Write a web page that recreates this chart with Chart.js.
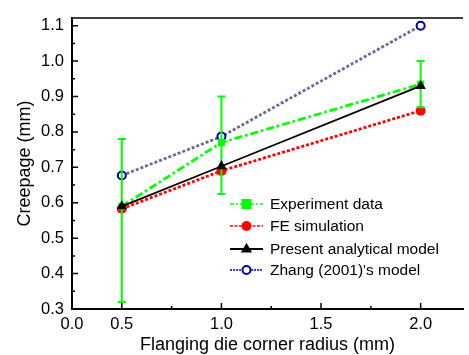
<!DOCTYPE html>
<html>
<head>
<meta charset="utf-8">
<script src="https://cdn.jsdelivr.net/npm/chart.js@4/dist/chart.umd.min.js"></script>
<style>
  html, body { margin: 0; padding: 0; background: #fff; }
  #wrap { width: 469px; height: 355px; }
</style>
</head>
<body>
<div id="wrap"><canvas id="c" width="469" height="355"></canvas></div>
<script>
// 曲げ型コーナー半径 (mm)
const radius = [0.5, 1.0, 2.0];

const experiment = [0.59, 0.77, 0.935];
const expLow     = [0.32, 0.625, 0.87];
const expHigh    = [0.78, 0.90, 1.0];
const feSim      = [0.583, 0.69, 0.86];
const present    = [0.59, 0.703, 0.93];
const zhang      = [0.677, 0.787, 1.10];

const seriesNames = ["Experiment data", "FE simulation", "Present analytical model", "Zhang (2001)'s model"];

const xTickValues = [0.25, 0.5, 1.0, 1.5, 2.0];
const xTickLabels = ["0.0", "0.5", "1.0", "1.5", "2.0"];
const xMinorTicks = [0.75, 1.25, 1.75];
const yTickValues = [0.3, 0.4, 0.5, 0.6, 0.7, 0.8, 0.9, 1.0, 1.1];
const yMinorTicks = [0.35, 0.45, 0.55, 0.65, 0.75, 0.85, 0.95, 1.05];

const FONT = "'Liberation Sans', Arial, sans-serif";

const pts = (ys) => radius.map((x, i) => ({ x, y: ys[i] }));

// 実験値のエラーバー
const errorBars = {
  id: "errorBars",
  afterDatasetDraw(chart, args) {
    if (args.index !== 0) return;
    const { ctx } = chart;
    const xs = chart.scales.x, ys = chart.scales.y;
    ctx.save();
    ctx.strokeStyle = "#00ff00";
    ctx.lineWidth = 2;
    radius.forEach((r, i) => {
      const px = xs.getPixelForValue(r);
      const y1 = ys.getPixelForValue(expLow[i]);
      const y2 = ys.getPixelForValue(expHigh[i]);
      ctx.beginPath();
      ctx.moveTo(px, y1); ctx.lineTo(px, y2);
      ctx.moveTo(px - 4, y1); ctx.lineTo(px + 4, y1);
      ctx.moveTo(px - 4, y2); ctx.lineTo(px + 4, y2);
      ctx.stroke();
    });
    ctx.restore();
  }
};

// 内向き目盛り・上枠
const frameTicks = {
  id: "frameTicks",
  afterDraw(chart) {
    const { ctx, chartArea } = chart;
    const xs = chart.scales.x, ys = chart.scales.y;
    ctx.save();
    ctx.strokeStyle = "#000";
    ctx.lineWidth = 1.5;
    ctx.beginPath();
    ctx.moveTo(chartArea.left, chartArea.top);
    ctx.lineTo(chartArea.right, chartArea.top);
    xTickValues.slice(1).forEach(v => {
      const p = xs.getPixelForValue(v);
      ctx.moveTo(p, chartArea.bottom); ctx.lineTo(p, chartArea.bottom - 6);
    });
    xMinorTicks.forEach(v => {
      const p = xs.getPixelForValue(v);
      ctx.moveTo(p, chartArea.bottom); ctx.lineTo(p, chartArea.bottom - 3);
    });
    yTickValues.forEach(v => {
      const p = ys.getPixelForValue(v);
      ctx.moveTo(chartArea.left, p); ctx.lineTo(chartArea.left + 6, p);
    });
    yMinorTicks.forEach(v => {
      const p = ys.getPixelForValue(v);
      ctx.moveTo(chartArea.left, p); ctx.lineTo(chartArea.left + 3, p);
    });
    ctx.stroke();
    ctx.restore();
  }
};

function drawMarker(ctx, style, x, y, r, fill, stroke, bw) {
  ctx.beginPath();
  if (style === "rect") {
    ctx.rect(x - r, y - r, 2 * r, 2 * r);
  } else if (style === "triangle") {
    ctx.moveTo(x, y - r);
    ctx.lineTo(x + r * 0.95, y + r * 0.6);
    ctx.lineTo(x - r * 0.95, y + r * 0.6);
    ctx.closePath();
  } else {
    ctx.arc(x, y, r, 0, Math.PI * 2);
  }
  ctx.fillStyle = fill;
  ctx.fill();
  if (bw) { ctx.lineWidth = bw; ctx.strokeStyle = stroke; ctx.stroke(); }
}

// 凡例（線＋マーカー）
const lineLegend = {
  id: "lineLegend",
  afterDraw(chart) {
    const { ctx } = chart;
    const rows = [204, 226, 249, 270];
    ctx.save();
    chart.data.datasets.forEach((ds, i) => {
      const y = rows[i];
      ctx.setLineDash(ds.legendDash || ds.borderDash || []);
      ctx.strokeStyle = ds.legendColor || ds.borderColor;
      ctx.lineWidth = ds.legendWidth || ds.borderWidth;
      ctx.beginPath();
      ctx.moveTo(230, y); ctx.lineTo(263, y);
      ctx.stroke();
      ctx.setLineDash([]);
      drawMarker(ctx, ds.pointStyle, 246.5, y, ds.legendRadius || ds.pointRadius,
        ds.pointBackgroundColor, ds.pointBorderColor, ds.pointBorderWidth);
      ctx.fillStyle = "#000";
      ctx.font = "15.5px " + FONT;
      ctx.textBaseline = "middle";
      ctx.textAlign = "left";
      ctx.fillText(ds.label, 270, y + 1);
    });
    ctx.restore();
  }
};

new Chart(document.getElementById("c"), {
  type: "scatter",
  data: {
    datasets: [
      {
        label: seriesNames[0], data: pts(experiment), showLine: true, order: 1,
        borderColor: "#00ff00", borderWidth: 2.8, borderDash: [8, 3, 2.5, 3],
        pointStyle: "rect", pointRadius: 5, pointBackgroundColor: "#00ff00",
        pointBorderColor: "#00ff00", pointBorderWidth: 0, legendDash: [4, 2, 2, 2], legendWidth: 1.5
      },
      {
        label: seriesNames[1], data: pts(feSim), showLine: true, order: 2,
        borderColor: "#ff0000", borderWidth: 2.8, borderDash: [3, 2],
        pointStyle: "circle", pointRadius: 5, pointBackgroundColor: "#ff0000",
        pointBorderColor: "#ff0000", pointBorderWidth: 0, legendDash: [3, 1.5], legendWidth: 1.5
      },
      {
        label: seriesNames[2], data: pts(present), showLine: true, order: 0,
        borderColor: "#000000", borderWidth: 1.8,
        pointStyle: "triangle", pointRadius: 6, pointBackgroundColor: "#000000",
        pointBorderColor: "#000000", pointBorderWidth: 0, legendWidth: 2
      },
      {
        label: seriesNames[3], data: pts(zhang), showLine: true, order: 3,
        borderColor: "#6a6a9c", borderWidth: 2.8, borderDash: [3, 2],
        pointStyle: "circle", pointRadius: 4, pointBackgroundColor: "#ffffff",
        pointBorderColor: "#0000a0", pointBorderWidth: 2,
        legendColor: "#0000a0", legendDash: [2, 1], legendWidth: 1.5
      }
    ]
  },
  options: {
    responsive: false,
    animation: false,
    devicePixelRatio: 1,
    layout: { padding: { top: 12, right: 0, bottom: 0, left: 0 } },
    plugins: { legend: { display: false }, tooltip: { enabled: false } },
    elements: { line: { tension: 0 } },
    scales: {
      x: {
        type: "linear", min: 0.25, max: 2.2126,
        afterBuildTicks: (s) => { s.ticks = xTickValues.map(v => ({ value: v })); },
        afterFit: (s) => { s.height = 46; },
        grid: { display: false, drawTicks: false },
        border: { display: true, color: "#000", width: 2 },
        ticks: {
          padding: 6, color: "#000", font: { family: FONT, size: 16.5 },
          callback: (v) => xTickLabels[xTickValues.indexOf(v)]
        },
        title: {
          display: true, text: "Flanging die corner radius (mm)", color: "#000",
          font: { family: FONT, size: 18, lineHeight: 1 }, padding: { top: 0, bottom: 1 }
        }
      },
      y: {
        type: "linear", min: 0.3, max: 1.122,
        afterBuildTicks: (s) => { s.ticks = yTickValues.map(v => ({ value: v })); },
        afterFit: (s) => { s.width = 72; },
        grid: { display: false, drawTicks: false },
        border: { display: true, color: "#000", width: 2 },
        ticks: {
          padding: 8, color: "#000", font: { family: FONT, size: 16.5 },
          callback: (v) => v.toFixed(1)
        },
        title: {
          display: true, text: "Creepage (mm)", color: "#000",
          font: { family: FONT, size: 18, lineHeight: 1 }, padding: { top: 16, bottom: 0 }
        }
      }
    }
  },
  plugins: [errorBars, frameTicks, lineLegend]
});
</script>
</body>
</html>
